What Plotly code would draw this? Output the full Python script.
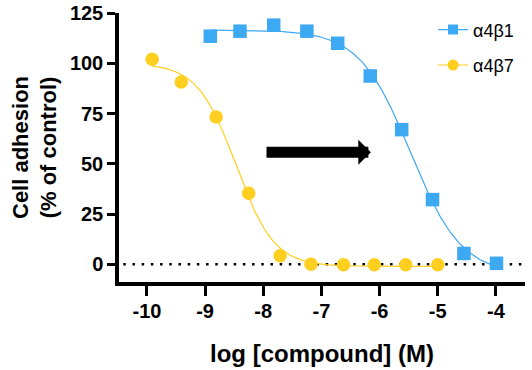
import numpy as np
import plotly.graph_objects as go

# ---- data ----
series_names = ["α4β1", "α4β7"]
a4b1_logconc = [-8.91, -8.40, -7.82, -7.25, -6.72, -6.16, -5.62, -5.09, -4.55, -3.99]
a4b1_adhesion = [113.5, 116.0, 119.0, 116.0, 110.0, 93.7, 67.0, 32.2, 5.4, 0.5]
a4b7_logconc = [-9.91, -9.41, -8.81, -8.25, -7.71, -7.18, -6.62, -6.09, -5.55, -5.00]
a4b7_adhesion = [102.0, 90.7, 73.3, 35.4, 4.3, 0.0, -0.2, -0.2, -0.2, -0.2]
x_ticks = [-10, -9, -8, -7, -6, -5, -4]
y_ticks = [0, 25, 50, 75, 100, 125]

BLUE = "#3DA9F2"
YELLOW = "#FFCF1F"
FONT = "Liberation Sans, Arial, sans-serif"


def fit_4pl(x, y):
    """Least-squares 4-parameter logistic fit (grid over IC50/slope, linear top/bottom)."""
    x = np.asarray(x, float)
    y = np.asarray(y, float)
    cs = np.linspace(-11, -3, 1601)
    hs = np.linspace(0.3, 4.0, 371)
    C, H = np.meshgrid(cs, hs, indexing="ij")
    f = 1.0 / (1.0 + 10 ** ((x[None, None, :] - C[..., None]) * H[..., None]))
    g = 1.0 - f
    a11 = (g * g).sum(-1); a12 = (g * f).sum(-1); a22 = (f * f).sum(-1)
    r1 = (g * y).sum(-1); r2 = (f * y).sum(-1)
    det = a11 * a22 - a12 * a12
    det = np.where(np.abs(det) < 1e-12, np.nan, det)
    b = (a22 * r1 - a12 * r2) / det
    t = (a11 * r2 - a12 * r1) / det
    sse = ((b[..., None] * g + t[..., None] * f - y) ** 2).sum(-1)
    i, j = np.unravel_index(np.nanargmin(sse), sse.shape)
    c, h, bb, tt = cs[i], hs[j], b[i, j], t[i, j]
    xs = np.linspace(x.min(), x.max(), 300)
    ys = bb + (tt - bb) / (1 + 10 ** ((xs - c) * h))
    return xs, ys


fig = go.Figure()

for name, xv, yv, col, sym, grp in [
    (series_names[0], a4b1_logconc, a4b1_adhesion, BLUE, "square", "g1"),
    (series_names[1], a4b7_logconc, a4b7_adhesion, YELLOW, "circle", "g2"),
]:
    xs, ys = fit_4pl(xv, yv)
    fig.add_trace(go.Scatter(x=xs, y=ys, mode="lines", line=dict(color=col, width=1.2),
                             showlegend=False, hoverinfo="skip", legendgroup=grp))
    fig.add_trace(go.Scatter(x=xv, y=yv, mode="markers", name=name,
                             marker=dict(color=col, symbol=sym, size=13.5),
                             showlegend=False, legendgroup=grp))

# legend entries drawn as line + marker
fig.add_trace(go.Scatter(x=[None], y=[None], mode="lines+markers", name=series_names[0],
                         line=dict(color=BLUE, width=1.2),
                         marker=dict(color=BLUE, symbol="square", size=10), legendgroup="g1"))
fig.add_trace(go.Scatter(x=[None], y=[None], mode="lines+markers", name=series_names[1],
                         line=dict(color=YELLOW, width=1.2),
                         marker=dict(color=YELLOW, symbol="circle", size=11), legendgroup="g2"))

# dotted zero line
fig.add_shape(type="line", xref="paper", yref="y", x0=0.0105, x1=1, y0=0, y1=0,
              line=dict(color="black", width=2.5, dash="2.5px,6.7px"), layer="below")

# shift arrow
fig.add_annotation(x=-6.15, y=55.8, ax=-7.97, ay=55.8, xref="x", yref="y",
                   axref="x", ayref="y", text="", showarrow=True,
                   arrowhead=1, arrowwidth=11, arrowsize=0.38, arrowcolor="black")

axis_common = dict(showline=True, linecolor="black", linewidth=3.5, ticks="outside",
                   tickwidth=3.2, tickcolor="black", showgrid=False,
                   ticklabeloverflow="allow",
                   zeroline=False, tickfont=dict(family=FONT, size=20, color="black", weight="bold"))

fig.update_xaxes(range=[-10.48, -3.5], tickvals=x_ticks, ticktext=[str(v) for v in x_ticks],
                 ticklen=10, ticklabelstandoff=-2,
                 title=dict(text="log [compound] (M)", standoff=25,
                            font=dict(family=FONT, size=24, color="black", weight="bold")),
                 **axis_common)
fig.update_yaxes(range=[-8.8, 125.05], tickvals=y_ticks, ticklen=8,
                 title=dict(text="Cell adhesion<br>(% of control)", standoff=8,
                            font=dict(family=FONT, size=22, color="black", weight="bold")),
                 **axis_common)

fig.update_layout(
    width=532, height=370,
    margin=dict(l=118.75, r=7, t=12.5, b=88.25, autoexpand=False),
    plot_bgcolor="white", paper_bgcolor="white",
    showlegend=True,
    legend=dict(x=0.7735, y=1.006, xanchor="left", yanchor="top", tracegroupgap=9,
                font=dict(family=FONT, size=18, color="black"), bgcolor="rgba(0,0,0,0)"),
    font=dict(family=FONT),
)

# remove the browser's default 8px body margin so the figure fills the window
fig.write_html("out.html", config={"displayModeBar": False},
               post_script="document.body.style.margin='0px';")
